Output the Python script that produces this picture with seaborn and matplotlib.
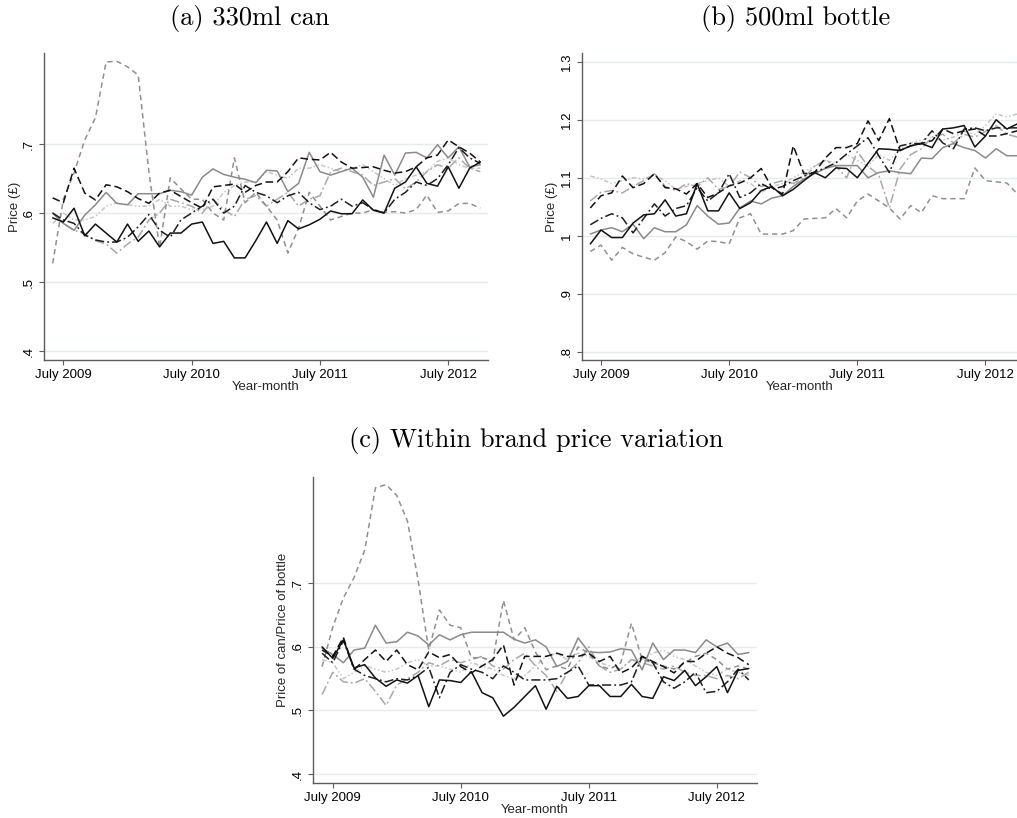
import numpy as np
import pandas as pd
import matplotlib
matplotlib.use("Agg")
import matplotlib.pyplot as plt
import seaborn as sns

sns.set_theme(style="white")
plt.rcParams["font.family"] = ["Liberation Sans", "DejaVu Sans"]

# Months counted from July 2009 (June 2009 .. October 2012)
months = np.arange(-1, 40)
tick_months = [0, 12, 24, 36]
tick_labels = ["July 2009", "July 2010", "July 2011", "July 2012"]

brands = ["Brand A", "Brand B", "Brand C", "Brand D", "Brand E", "Brand F", "Brand G"]

# (a) average price of a 330ml can, £
can_a = [0.593, 0.587, 0.607, 0.567, 0.584, 0.571, 0.558, 0.584, 0.559, 0.574, 0.551, 0.571, 0.571, 0.584,
         0.587, 0.556, 0.559, 0.535, 0.535, 0.560, 0.587, 0.556, 0.589, 0.577, 0.583, 0.591, 0.603, 0.599,
         0.599, 0.619, 0.604, 0.600, 0.636, 0.645, 0.667, 0.643, 0.639, 0.667, 0.636, 0.665, 0.674]
can_b = [0.622, 0.615, 0.665, 0.629, 0.619, 0.641, 0.638, 0.631, 0.621, 0.614, 0.629, 0.633, 0.624, 0.615,
         0.607, 0.638, 0.640, 0.642, 0.630, 0.640, 0.645, 0.645, 0.660, 0.680, 0.678, 0.677, 0.688, 0.674,
         0.665, 0.666, 0.667, 0.662, 0.658, 0.660, 0.667, 0.680, 0.684, 0.706, 0.696, 0.687, 0.674]
can_c = [0.600, 0.590, 0.585, 0.568, 0.561, 0.558, 0.558, 0.565, 0.580, 0.598, 0.575, 0.565, 0.590, 0.600,
         0.610, 0.620, 0.600, 0.610, 0.640, 0.630, 0.625, 0.615, 0.625, 0.630, 0.615, 0.605, 0.610, 0.620,
         0.610, 0.615, 0.605, 0.600, 0.620, 0.630, 0.645, 0.640, 0.650, 0.670, 0.695, 0.680, 0.672]
can_d = [0.600, 0.585, 0.575, 0.597, 0.612, 0.630, 0.614, 0.612, 0.628, 0.628, 0.628, 0.633, 0.631, 0.626,
         0.652, 0.664, 0.656, 0.652, 0.649, 0.644, 0.662, 0.661, 0.631, 0.643, 0.688, 0.660, 0.655, 0.660,
         0.665, 0.652, 0.623, 0.684, 0.655, 0.687, 0.688, 0.680, 0.699, 0.680, 0.696, 0.667, 0.670]
can_e = [0.527, 0.620, 0.658, 0.706, 0.738, 0.819, 0.820, 0.812, 0.800, 0.660, 0.550, 0.651, 0.635, 0.620,
         0.620, 0.600, 0.590, 0.680, 0.615, 0.630, 0.610, 0.590, 0.542, 0.578, 0.630, 0.610, 0.590, 0.595,
         0.600, 0.600, 0.605, 0.601, 0.602, 0.600, 0.605, 0.626, 0.601, 0.603, 0.614, 0.614, 0.607]
can_f = [0.600, 0.585, 0.575, 0.570, 0.560, 0.555, 0.542, 0.555, 0.565, 0.590, 0.600, 0.620, 0.615, 0.610,
         0.600, 0.620, 0.605, 0.595, 0.620, 0.625, 0.610, 0.620, 0.630, 0.610, 0.620, 0.625, 0.660, 0.665,
         0.660, 0.655, 0.640, 0.645, 0.650, 0.635, 0.645, 0.660, 0.670, 0.665, 0.680, 0.665, 0.660]
can_g = [0.585, 0.600, 0.590, 0.590, 0.595, 0.610, 0.615, 0.612, 0.610, 0.610, 0.620, 0.610, 0.610, 0.605,
         0.605, 0.610, 0.630, 0.640, 0.645, 0.645, 0.660, 0.655, 0.650, 0.665, 0.665, 0.670, 0.665, 0.660,
         0.665, 0.670, 0.660, 0.650, 0.640, 0.650, 0.655, 0.660, 0.675, 0.680, 0.670, 0.665, 0.665]

# (b) average price of a 500ml bottle, £
bottle_a = [0.986, 1.010, 0.997, 0.997, 1.022, 1.036, 1.038, 1.062, 1.034, 1.038, 1.090, 1.043, 1.043, 1.074,
            1.047, 1.057, 1.078, 1.085, 1.069, 1.080, 1.095, 1.109, 1.100, 1.117, 1.116, 1.100, 1.125, 1.150,
            1.149, 1.147, 1.155, 1.159, 1.152, 1.184, 1.186, 1.190, 1.153, 1.172, 1.200, 1.184, 1.193]
bottle_b = [1.048, 1.069, 1.074, 1.103, 1.083, 1.090, 1.107, 1.083, 1.081, 1.072, 1.090, 1.066, 1.074, 1.086,
            1.091, 1.100, 1.116, 1.083, 1.072, 1.155, 1.107, 1.109, 1.134, 1.152, 1.152, 1.159, 1.198, 1.164,
            1.202, 1.147, 1.155, 1.159, 1.164, 1.184, 1.176, 1.181, 1.184, 1.172, 1.172, 1.176, 1.181]
bottle_c = [1.019, 1.030, 1.038, 1.031, 1.005, 1.030, 1.055, 1.034, 1.047, 1.052, 1.083, 1.060, 1.074, 1.107,
            1.066, 1.074, 1.090, 1.080, 1.085, 1.095, 1.103, 1.110, 1.117, 1.126, 1.141, 1.155, 1.169, 1.138,
            1.109, 1.155, 1.159, 1.159, 1.181, 1.160, 1.150, 1.184, 1.186, 1.181, 1.186, 1.186, 1.186]
bottle_d = [1.003, 1.010, 1.014, 1.007, 1.020, 0.995, 1.014, 1.007, 1.007, 1.019, 1.052, 1.034, 1.020, 1.022,
            1.048, 1.060, 1.055, 1.065, 1.069, 1.085, 1.098, 1.107, 1.116, 1.121, 1.121, 1.121, 1.100, 1.109,
            1.112, 1.109, 1.107, 1.134, 1.133, 1.152, 1.159, 1.152, 1.147, 1.134, 1.150, 1.138, 1.138]
bottle_e = [0.973, 0.984, 0.958, 0.980, 0.969, 0.963, 0.958, 0.971, 0.998, 0.990, 0.977, 0.991, 0.990, 0.986,
            1.031, 1.038, 1.003, 1.003, 1.003, 1.009, 1.029, 1.030, 1.031, 1.047, 1.031, 1.060, 1.072, 1.060,
            1.048, 1.029, 1.052, 1.040, 1.069, 1.064, 1.064, 1.064, 1.117, 1.095, 1.093, 1.091, 1.072]
bottle_f = [1.060, 1.075, 1.078, 1.074, 1.085, 1.095, 1.107, 1.085, 1.078, 1.090, 1.085, 1.100, 1.080, 1.085,
            1.110, 1.100, 1.085, 1.090, 1.095, 1.090, 1.100, 1.120, 1.130, 1.120, 1.100, 1.145, 1.120, 1.105,
            1.048, 1.115, 1.140, 1.150, 1.170, 1.175, 1.160, 1.175, 1.170, 1.180, 1.190, 1.175, 1.170]
bottle_g = [1.103, 1.098, 1.090, 1.095, 1.100, 1.098, 1.105, 1.095, 1.080, 1.085, 1.090, 1.095, 1.100, 1.085,
            1.095, 1.090, 1.075, 1.085, 1.090, 1.100, 1.110, 1.120, 1.130, 1.125, 1.140, 1.130, 1.120, 1.140,
            1.130, 1.150, 1.160, 1.165, 1.170, 1.165, 1.170, 1.180, 1.175, 1.190, 1.210, 1.205, 1.210]

# (c) price of can relative to price of bottle
ratio_a = [0.600, 0.582, 0.611, 0.567, 0.572, 0.551, 0.538, 0.548, 0.543, 0.555, 0.506, 0.548, 0.547, 0.544,
           0.561, 0.528, 0.520, 0.491, 0.505, 0.522, 0.539, 0.502, 0.538, 0.519, 0.522, 0.539, 0.539, 0.522,
           0.522, 0.541, 0.522, 0.519, 0.553, 0.547, 0.563, 0.539, 0.553, 0.569, 0.528, 0.563, 0.566]
ratio_b = [0.595, 0.585, 0.615, 0.564, 0.580, 0.595, 0.577, 0.595, 0.572, 0.564, 0.592, 0.583, 0.588, 0.569,
           0.559, 0.570, 0.580, 0.603, 0.540, 0.585, 0.585, 0.585, 0.590, 0.585, 0.585, 0.590, 0.577, 0.585,
           0.559, 0.567, 0.585, 0.577, 0.569, 0.559, 0.577, 0.577, 0.590, 0.600, 0.590, 0.583, 0.572]
ratio_c = [0.590, 0.575, 0.610, 0.565, 0.555, 0.550, 0.545, 0.550, 0.548, 0.555, 0.568, 0.520, 0.560, 0.572,
           0.565, 0.560, 0.550, 0.570, 0.560, 0.548, 0.548, 0.548, 0.550, 0.560, 0.570, 0.540, 0.540, 0.540,
           0.540, 0.545, 0.585, 0.575, 0.545, 0.535, 0.545, 0.560, 0.528, 0.530, 0.545, 0.565, 0.548]
ratio_d = [0.598, 0.588, 0.575, 0.595, 0.598, 0.634, 0.606, 0.608, 0.623, 0.617, 0.603, 0.619, 0.611, 0.619,
           0.623, 0.623, 0.623, 0.623, 0.612, 0.606, 0.611, 0.600, 0.569, 0.577, 0.614, 0.592, 0.591, 0.592,
           0.597, 0.595, 0.564, 0.606, 0.580, 0.595, 0.595, 0.591, 0.611, 0.600, 0.606, 0.588, 0.591]
ratio_e = [0.569, 0.631, 0.677, 0.709, 0.752, 0.850, 0.855, 0.838, 0.798, 0.705, 0.595, 0.658, 0.634, 0.630,
           0.583, 0.583, 0.578, 0.673, 0.611, 0.630, 0.592, 0.564, 0.570, 0.565, 0.600, 0.590, 0.570, 0.565,
           0.575, 0.637, 0.580, 0.575, 0.570, 0.565, 0.575, 0.585, 0.590, 0.580, 0.565, 0.570, 0.565]
ratio_f = [0.525, 0.560, 0.545, 0.543, 0.550, 0.530, 0.508, 0.540, 0.550, 0.560, 0.575, 0.570, 0.580, 0.575,
           0.580, 0.585, 0.570, 0.565, 0.580, 0.590, 0.570, 0.555, 0.530, 0.560, 0.575, 0.600, 0.570, 0.560,
           0.565, 0.580, 0.575, 0.570, 0.565, 0.570, 0.560, 0.555, 0.555, 0.550, 0.555, 0.550, 0.560]
ratio_g = [0.580, 0.575, 0.550, 0.560, 0.570, 0.565, 0.560, 0.565, 0.575, 0.580, 0.570, 0.570, 0.565, 0.560,
           0.575, 0.570, 0.565, 0.555, 0.550, 0.555, 0.570, 0.585, 0.590, 0.580, 0.590, 0.585, 0.575, 0.570,
           0.565, 0.580, 0.580, 0.590, 0.595, 0.585, 0.580, 0.570, 0.560, 0.555, 0.565, 0.560, 0.555]

# Line appearance per brand (monochrome scheme)
palette = {"Brand A": "#111111", "Brand B": "#111111", "Brand C": "#1e1e1e", "Brand D": "#8a8a8a",
           "Brand E": "#909090", "Brand F": "#a8a8a8", "Brand G": "#c6c6c6"}
dashes = {"Brand A": "", "Brand B": (5, 2.5), "Brand C": (6, 2, 1.2, 2), "Brand D": "",
          "Brand E": (3.5, 2.5), "Brand F": (6, 2, 1.2, 2), "Brand G": (3, 1.5, 1, 1.5, 1, 1.5)}
draw_order = brands[::-1]

W, H = 1017, 818
fig = plt.figure(figsize=(W / 100, H / 100), dpi=100)


def px_axes(left, top, right, bottom):
    return fig.add_axes([left / W, 1 - bottom / H, (right - left) / W, (bottom - top) / H])


def draw_panel(ax, series, ylim, yticks, yticklabels, xlim, ylabel, ylabel_x):
    frame = pd.DataFrame({
        "month": np.tile(months, len(brands)),
        "value": np.concatenate(series),
        "brand": np.repeat(brands, len(months)),
    })
    sns.lineplot(data=frame, x="month", y="value", hue="brand", style="brand",
                 hue_order=draw_order, style_order=draw_order, palette=palette,
                 dashes=dashes, linewidth=1.1, legend=False, errorbar=None, ax=ax)
    ax.set_xlim(*xlim)
    ax.set_ylim(*ylim)
    ax.set_xticks(tick_months)
    ax.set_xticklabels(tick_labels)
    ax.set_yticks(yticks)
    ax.set_yticklabels(yticklabels)
    ax.grid(axis="y", color="#e4ecef", linewidth=1.0)
    ax.grid(axis="x", visible=False)
    ax.set_axisbelow(True)
    sns.despine(ax=ax)
    for side in ("left", "bottom"):
        ax.spines[side].set_color("#5c5c5c")
        ax.spines[side].set_linewidth(1.0)
    ax.tick_params(axis="both", bottom=True, left=True, direction="out", length=3.5,
                   width=0.8, color="#5c5c5c", labelsize=9.5, labelcolor="black", pad=3)
    ax.tick_params(axis="y", labelrotation=90, pad=3)
    for lab in ax.get_yticklabels():
        lab.set_va("center")
    ax.set_xlabel("Year-month", fontsize=9.5)
    ax.xaxis.set_label_coords(0.5, -0.088)
    ax.xaxis.label.set_va("center")
    ax.set_ylabel(ylabel, fontsize=9.5)
    ax.yaxis.set_label_coords(ylabel_x, 0.5)
    ax.yaxis.label.set_va("center")


ax_a = px_axes(44, 53, 488, 360)
draw_panel(ax_a, [can_a, can_b, can_c, can_d, can_e, can_f, can_g],
           (0.387, 0.832), [0.4, 0.5, 0.6, 0.7], [".4", ".5", ".6", ".7"],
           (-1.81, 39.72), "Price (£)", -0.065)

ax_b = px_axes(582, 53, 1017, 360)
draw_panel(ax_b, [bottle_a, bottle_b, bottle_c, bottle_d, bottle_e, bottle_f, bottle_g],
           (0.786, 1.315), [0.8, 0.9, 1.0, 1.1, 1.2, 1.3], [".8", ".9", "1", "1.1", "1.2", "1.3"],
           (-1.78, 38.95), "Price (£)", -0.069)

ax_c = px_axes(313, 477, 757, 783)
draw_panel(ax_c, [ratio_a, ratio_b, ratio_c, ratio_d, ratio_e, ratio_f, ratio_g],
           (0.386, 0.867), [0.4, 0.5, 0.6, 0.7], [".4", ".5", ".6", ".7"],
           (-1.85, 39.77), "Price of can/Price of bottle", -0.068)

title_kw = dict(fontfamily="cmr10", fontsize=19, ha="center", va="center", color="black")
fig.text(250 / W, 1 - 18 / H, "(a) 330ml can", **title_kw)
fig.text(796 / W, 1 - 18 / H, "(b) 500ml bottle", **title_kw)
fig.text(536 / W, 1 - 440 / H, "(c) Within brand price variation", **title_kw)

fig.savefig("out.png", dpi=100)
